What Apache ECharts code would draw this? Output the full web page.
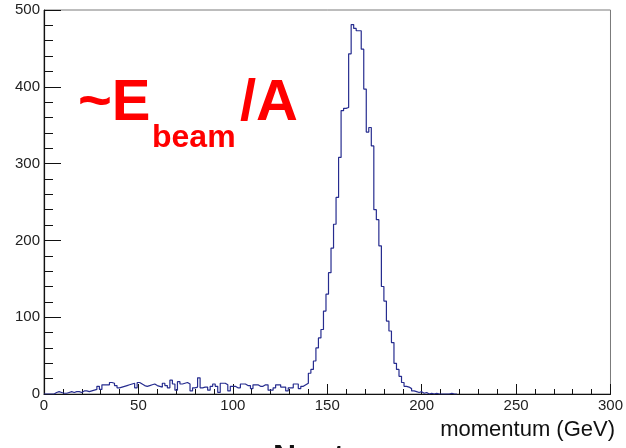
<!DOCTYPE html>
<html>
<head>
<meta charset="utf-8">
<script src="https://cdn.jsdelivr.net/npm/echarts@6/dist/echarts.min.js"></script>
<style>
  html, body { margin: 0; padding: 0; background: #fff; }
  #chart { width: 626px; height: 448px; }
</style>
</head>
<body>
<div id="chart"></div>
<script>
// histogram: counts per bin, bins start at 0 GeV
let binStart = 0;
let binWidth = 4 / 3;
let counts = [
    0, 0, 0, 0, 2, 3, 2, 1, 1, 2,
    3, 2, 3, 3, 2, 4, 4, 3, 4, 5,
    6, 10, 6, 12, 12, 12, 15, 14, 11, 8,
    9, 10, 11, 12, 13, 14, 8, 15, 13, 11,
    10, 11, 12, 13, 11, 10, 9, 14, 11, 8,
    18, 13, 5, 16, 13, 14, 15, 13, 4, 8,
    9, 21, 8, 9, 9, 5, 10, 13, 10, 2,
    14, 14, 12, 4, 10, 10, 8, 8, 13, 13,
    11, 11, 7, 12, 12, 10, 10, 12, 12, 5,
    5, 8, 12, 12, 9, 9, 4, 8, 8, 13,
    13, 7, 10, 12, 14, 27, 32, 43, 60, 73,
    84, 108, 130, 158, 190, 221, 256, 308, 369, 372,
    373, 443, 481, 476, 473, 473, 449, 397, 341, 347,
    323, 240, 227, 193, 140, 121, 95, 82, 67, 40,
    32, 23, 15, 10, 9, 7, 4, 3, 2, 3,
    1, 2, 0, 1, 0, 1, 0, 0, 0, 0,
    0, 1, 0, 0
];
let xTicks = [0, 50, 100, 150, 200, 250, 300];
let yTicks = [0, 100, 200, 300, 400, 500];
let xTitle = "momentum (GeV)";

let chart = echarts.init(document.getElementById("chart"));

// step points at the left edge of each bin, closed at the last edge
let points = counts.map(function(c, i) {
    return [binStart + i * binWidth, c];
});
points.push([binStart + counts.length * binWidth, 0]);

let font = "'Liberation Sans', Arial, Helvetica, sans-serif";

let option = {
    animation: false,
    grid: {
        left: 44,
        right: 11,
        top: 10,
        bottom: 54,
        show: true,
        borderColor: "#7a7a7a",
        borderWidth: 1
    },
    xAxis: {
        type: "value",
        min: xTicks[0],
        max: xTicks[xTicks.length - 1],
        interval: xTicks[1] - xTicks[0],
        axisLine: { show: true, lineStyle: { color: "#111", width: 1.2 } },
        axisTick: { show: true, inside: true, length: 10, lineStyle: { color: "#111" } },
        minorTick: { show: true, splitNumber: 5, length: 5, lineStyle: { color: "#111" } },
        splitLine: { show: false },
        axisLabel: { margin: 4, fontSize: 15, color: "#222", fontFamily: font }
    },
    yAxis: {
        type: "value",
        min: yTicks[0],
        max: yTicks[yTicks.length - 1],
        interval: yTicks[1] - yTicks[0],
        axisLine: { show: true, lineStyle: { color: "#111", width: 1.2 } },
        axisTick: { show: true, inside: true, length: 17, lineStyle: { color: "#111" } },
        minorTick: { show: true, splitNumber: 5, length: 9, lineStyle: { color: "#111" } },
        splitLine: { show: false },
        axisLabel: { margin: 4, fontSize: 15, color: "#222", fontFamily: font }
    },
    series: [
        {
            type: "line",
            step: "end",
            showSymbol: false,
            lineStyle: { color: "#262c8f", width: 1.2 },
            data: points
        }
    ],
    graphic: [
        {
            type: "text",
            left: 78,
            top: 75,
            style: { text: "~E", font: "bold 58px " + font, fill: "#ff0000" }
        },
        {
            type: "text",
            left: 152,
            top: 122,
            style: { text: "beam", font: "bold 32px " + font, fill: "#ff0000" }
        },
        {
            type: "text",
            left: 240,
            top: 75,
            style: { text: "/A", font: "bold 58px " + font, fill: "#ff0000" }
        },
        {
            type: "text",
            right: 11,
            top: 419,
            style: { text: xTitle, font: "22px " + font, fill: "#111" }
        },
        {
            type: "text",
            left: 273,
            top: 442,
            style: { text: "Neutron", font: "bold 32px " + font, fill: "#111" }
        }
    ]
};
chart.setOption(option, true);
</script>
</body>
</html>
